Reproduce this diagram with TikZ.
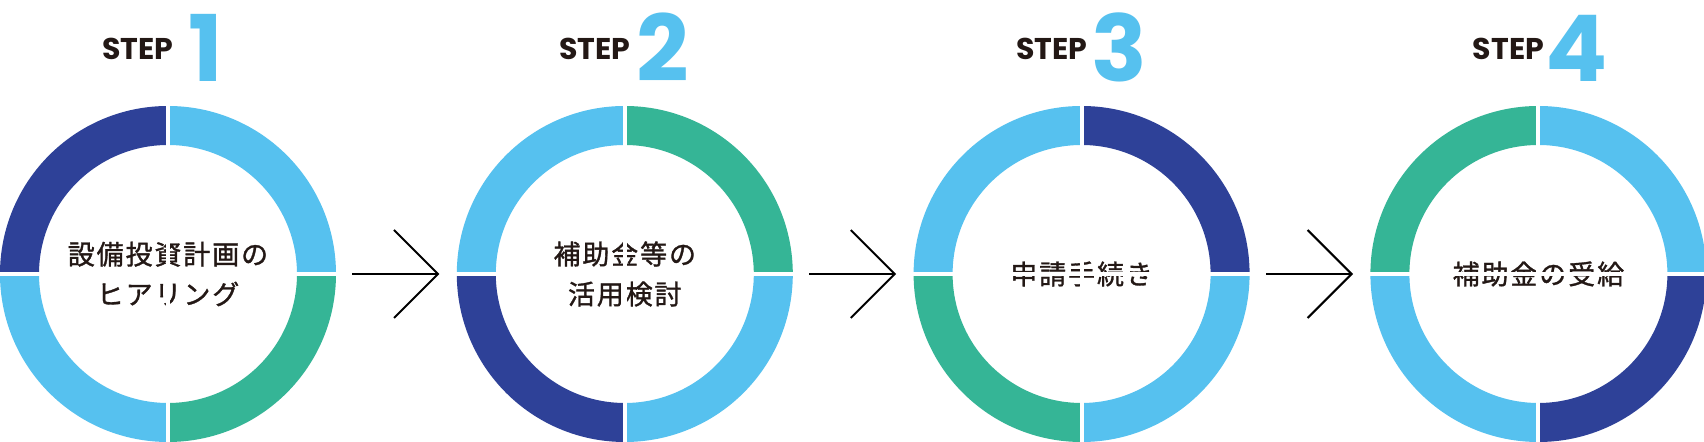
\documentclass[tikz,border=0pt]{standalone}
\usepackage{fontspec}
\newfontfamily\jpfont{Noto Sans CJK JP}[LetterSpace=7,FakeBold=1.2]
\newfontfamily\stepfont{Poppins}
\usepackage{xcolor}
\usetikzlibrary{arrows.meta,positioning,calc}
\definecolor{ringnavy}{HTML}{2E4198}
\definecolor{ringsky}{HTML}{56C1EF}
\definecolor{ringgreen}{HTML}{35B596}
\definecolor{ink}{HTML}{231815}

\begin{document}
\begin{tikzpicture}[x=0.5pt,y=0.5pt,node distance=60pt,
  ring/.style={circle,minimum size=168pt,inner sep=0pt,align=center,text=ink,
    font=\jpfont\fontsize{13.5pt}{20pt}\selectfont},
  steplabel/.style={text=ink,inner sep=0pt,font=\stepfont\bfseries\fontsize{15pt}{16pt}\selectfont},
  stepnum/.style={text=ringsky,inner sep=0pt,font=\stepfont\bfseries\fontsize{46pt}{48pt}\selectfont},
  flowarrow/.style={line width=1pt,shorten <=8pt,shorten >=8.5pt,-{Straight Barb[length=22pt,width=44pt]}}]
  \fill[white] (0,0) rectangle (1704,442);
  \useasboundingbox (0,0) rectangle (1704,442);

  \node[ring] (ring1) at (168,168) {設備投資計画の\\ヒアリング};
  \node[ring,right=of ring1] (ring2) {補助金等の\\活用検討};
  \node[ring,right=of ring2] (ring3) {申請手続き};
  \node[ring,right=of ring3] (ring4) {補助金の受給};

  % quadrants: top left, top right, bottom right, bottom left
  \foreach \r/\ca/\cb/\cc/\cd in {ring1/ringnavy/ringsky/ringgreen/ringsky,
      ring2/ringsky/ringgreen/ringsky/ringnavy,
      ring3/ringsky/ringnavy/ringsky/ringgreen,
      ring4/ringgreen/ringsky/ringnavy/ringsky} {
    \foreach \a/\c in {180/\ca,90/\cb,0/\cc,-90/\cd}
      \fill[\c] (\r.center) ++(\a:84pt) arc[start angle=\a,end angle=\a-90,radius=84pt]
        -- ++(\a-90:-19.5pt) arc[start angle=\a-90,end angle=\a,radius=64.5pt] -- cycle;
    \draw[white,line width=2pt,shorten <=-1pt,shorten >=-1pt] (\r.north) -- (\r.south);
    \draw[white,line width=2pt,shorten <=-1pt,shorten >=-1pt] (\r.west) -- (\r.east);
  }

  \foreach \i in {1,...,4} {
    \node[steplabel,anchor=base east] (step\i) at ($(ring\i.center)+(6,214)$) {STEP};
    \node[stepnum,anchor=base] (num\i) at ($(ring\i.center)+(38,192)$) {\i};
  }

  \foreach \i/\j in {1/2,2/3,3/4}
    \draw[flowarrow] (ring\i) -- (ring\j);
\end{tikzpicture}
\end{document}
